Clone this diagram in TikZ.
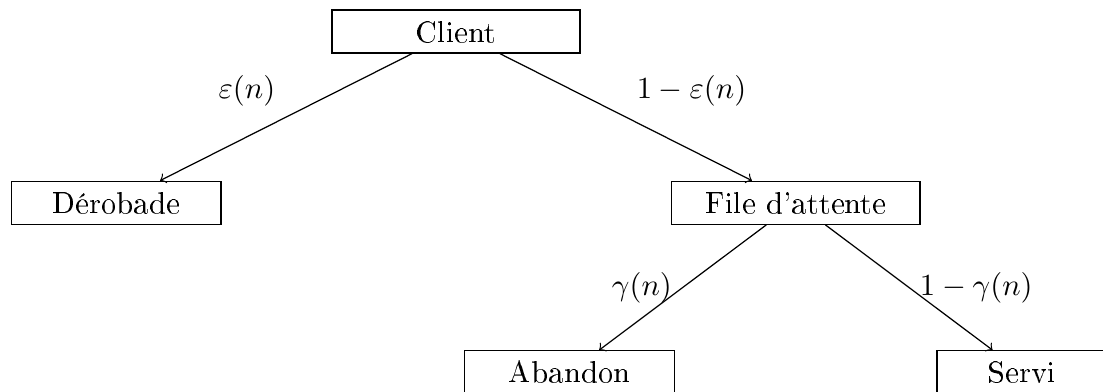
\documentclass[tikz,border=0pt]{standalone}
\usepackage[T1]{fontenc}
\usepackage{amsmath,amssymb}
\usepackage{tikz}
\usetikzlibrary{positioning}

\begin{document}
\begin{tikzpicture}[
  box/.style={draw,rectangle,minimum height=14pt,inner sep=3.33pt},
  lab/.style={inner sep=3.33pt},
  arr/.style={->}]
  \useasboundingbox (-148.5pt,10.26pt) rectangle (210.7pt,-117.4pt);
  \node[box,minimum width=2.84cm] (client) at (0,0) {Client};
  \node[box,minimum width=2.40cm,on grid,below left=1.96cm and 3.89cm of client] (derobade) {Dérobade};
  \node[box,minimum width=2.84cm,on grid,below right=1.96cm and 3.89cm of client] (file) {File d'attente};
  \node[box,minimum width=2.40cm,on grid,below left=1.94cm and 2.59cm of file] (abandon) {Abandon};
  \node[box,minimum width=1.95cm,on grid,below right=1.94cm and 2.59cm of file] (servi) {Servi};
  \draw[arr] (client) -- node[lab,above left] {$\varepsilon(n)$} (derobade);
  \draw[arr] (client) -- node[lab,above right] {$1-\varepsilon(n)$} (file);
  \draw[arr] (file) -- node[lab,left] {$\gamma(n)$} (abandon);
  \draw[arr] (file) -- node[lab,right] {$1-\gamma(n)$} (servi);
\end{tikzpicture}
\end{document}
